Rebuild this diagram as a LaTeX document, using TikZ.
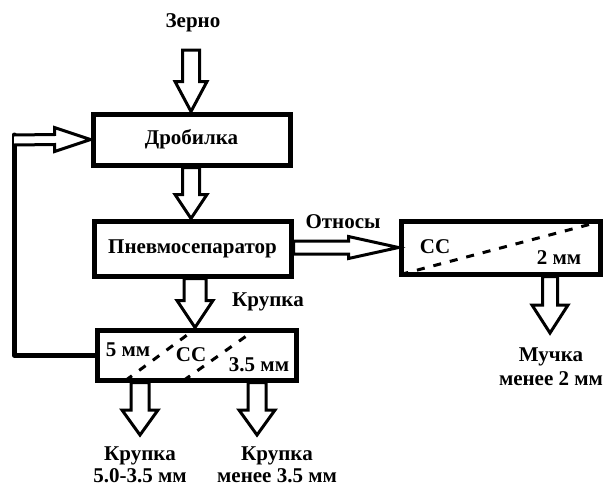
\documentclass[tikz,border=0pt]{standalone}
\usepackage{fontspec}
\setmainfont{Liberation Serif}
\usetikzlibrary{calc}
\tikzset{
  box/.style={draw, line width=5pt, rectangle, inner sep=0pt, fill=white},
  lbl/.style={font=\bfseries\fontsize{21}{24}\selectfont, inner sep=0pt, align=center},
  lbltwo/.style={lbl, font=\bfseries\fontsize{21}{22.5}\selectfont},
  fat/.style={draw, line width=3pt, fill=white, line join=miter},
  sieve/.style={line width=3pt, dash pattern=on 8pt off 9pt},
  loopline/.style={line width=5pt, line join=round, line cap=round},
}
% hollow block arrow: start, end, shaft half width, head half width, head length
\newcommand{\fatarrow}[5]{%
  \path (#1) coordinate (fa-s) (#2) coordinate (fa-e);
  \path ($(fa-e)!#5!(fa-s)$) coordinate (fa-h);
  \draw[fat] ($(fa-s)!#3!90:(fa-e)$) -- ($(fa-h)!#3!90:(fa-e)$) -- ($(fa-h)!#4!90:(fa-e)$)
    -- (fa-e) -- ($(fa-h)!#4!-90:(fa-e)$) -- ($(fa-h)!#3!-90:(fa-e)$) -- ($(fa-s)!#3!-90:(fa-e)$) -- cycle;
}
\begin{document}
\begin{tikzpicture}[x=1pt,y=-1pt]
\useasboundingbox (0,0) rectangle (612,488);
% boxes
\node[box, minimum width=197pt, minimum height=51pt] (drob) at (191.5,139.5) {};
\node[lbl] at (drob.center) {Дробилка};
\node[box, minimum width=197pt, minimum height=55pt] (pnev) at (192.5,248.5) {};
\node[lbl] at (pnev.center) {Пневмосепаратор};
\node[box, minimum width=199pt, minimum height=50pt] (cc1) at (196.5,355) {};
\node[box, minimum width=199pt, minimum height=53pt] (cc2) at (500.5,247.5) {};
% sieves
\draw[sieve] ($(cc1.south west)+(31,-2)$) -- ($(cc1.north west)+(100,2)$);
\draw[sieve] ($(cc1.south west)+(89,-2)$) -- ($(cc1.north west)+(161,2)$);
\draw[sieve] ($(cc2.south west)+(2,-2)$) -- ($(cc2.north east)+(-2,3)$);
% texts in sieve boxes
\node[lbl] (t5) at (128,350) {5 мм};
\node[lbl] (tcc1) at (191,355) {СС};
\node[lbl] (t35) at (259,365) {3.5 мм};
\node[lbl] (tcc2) at (435,247) {СС};
\node[lbl] (t2) at (559,258) {2 мм};
% labels
\node[lbl] (zerno) at (193,23) {Зерно};
\node[lbl] (krup) at (268,302) {Крупка};
\node[lbl] (otn) at (343,222) {Относы};
\node[lbl] (much) at (551,367) {Мучка\\менее 2 мм};
\node[lbltwo] (k1) at (140,465) {Крупка\\5.0-3.5 мм};
\node[lbltwo] (k2) at (277,465) {Крупка\\менее 3.5 мм};
% free arrow ends
\coordinate (in) at (191,50);
\coordinate (o1) at (140,435);
\coordinate (o2) at (257,435);
\coordinate (o3) at (550,333);
\coordinate (lp) at (14,140);
% arrows
\fatarrow{in}{drob.north -| in}{8.5pt}{16pt}{30pt}
\fatarrow{drob.south -| in}{pnev.north -| in}{8.5pt}{16pt}{24pt}
\fatarrow{pnev.south -| {(195,0)}}{cc1.north -| {(195,0)}}{11pt}{18pt}{27pt}
\fatarrow{pnev.east |- cc2.west}{cc2.west}{6.5pt}{11pt}{50pt}
\fatarrow{cc2.south -| o3}{o3}{7.5pt}{18pt}{28pt}
\fatarrow{cc1.south -| o1}{o1}{9pt}{18pt}{25pt}
\fatarrow{cc1.south -| o2}{o2}{9pt}{18pt}{25pt}
% recycle loop
\draw[loopline] (cc1.west) -| ($(lp)+(0,-5)$);
\draw[line width=3pt, fill=white] ($(lp)+(0,-5)$) -- ($(drob.west)+(-36,-5)$) -- ($(drob.west)+(-36,-12)$) -- (drob.west)
  -- ($(drob.west)+(-36,12)$) -- ($(drob.west)+(-36,5)$) -- ($(lp)+(0,5)$);
\end{tikzpicture}
\end{document}
